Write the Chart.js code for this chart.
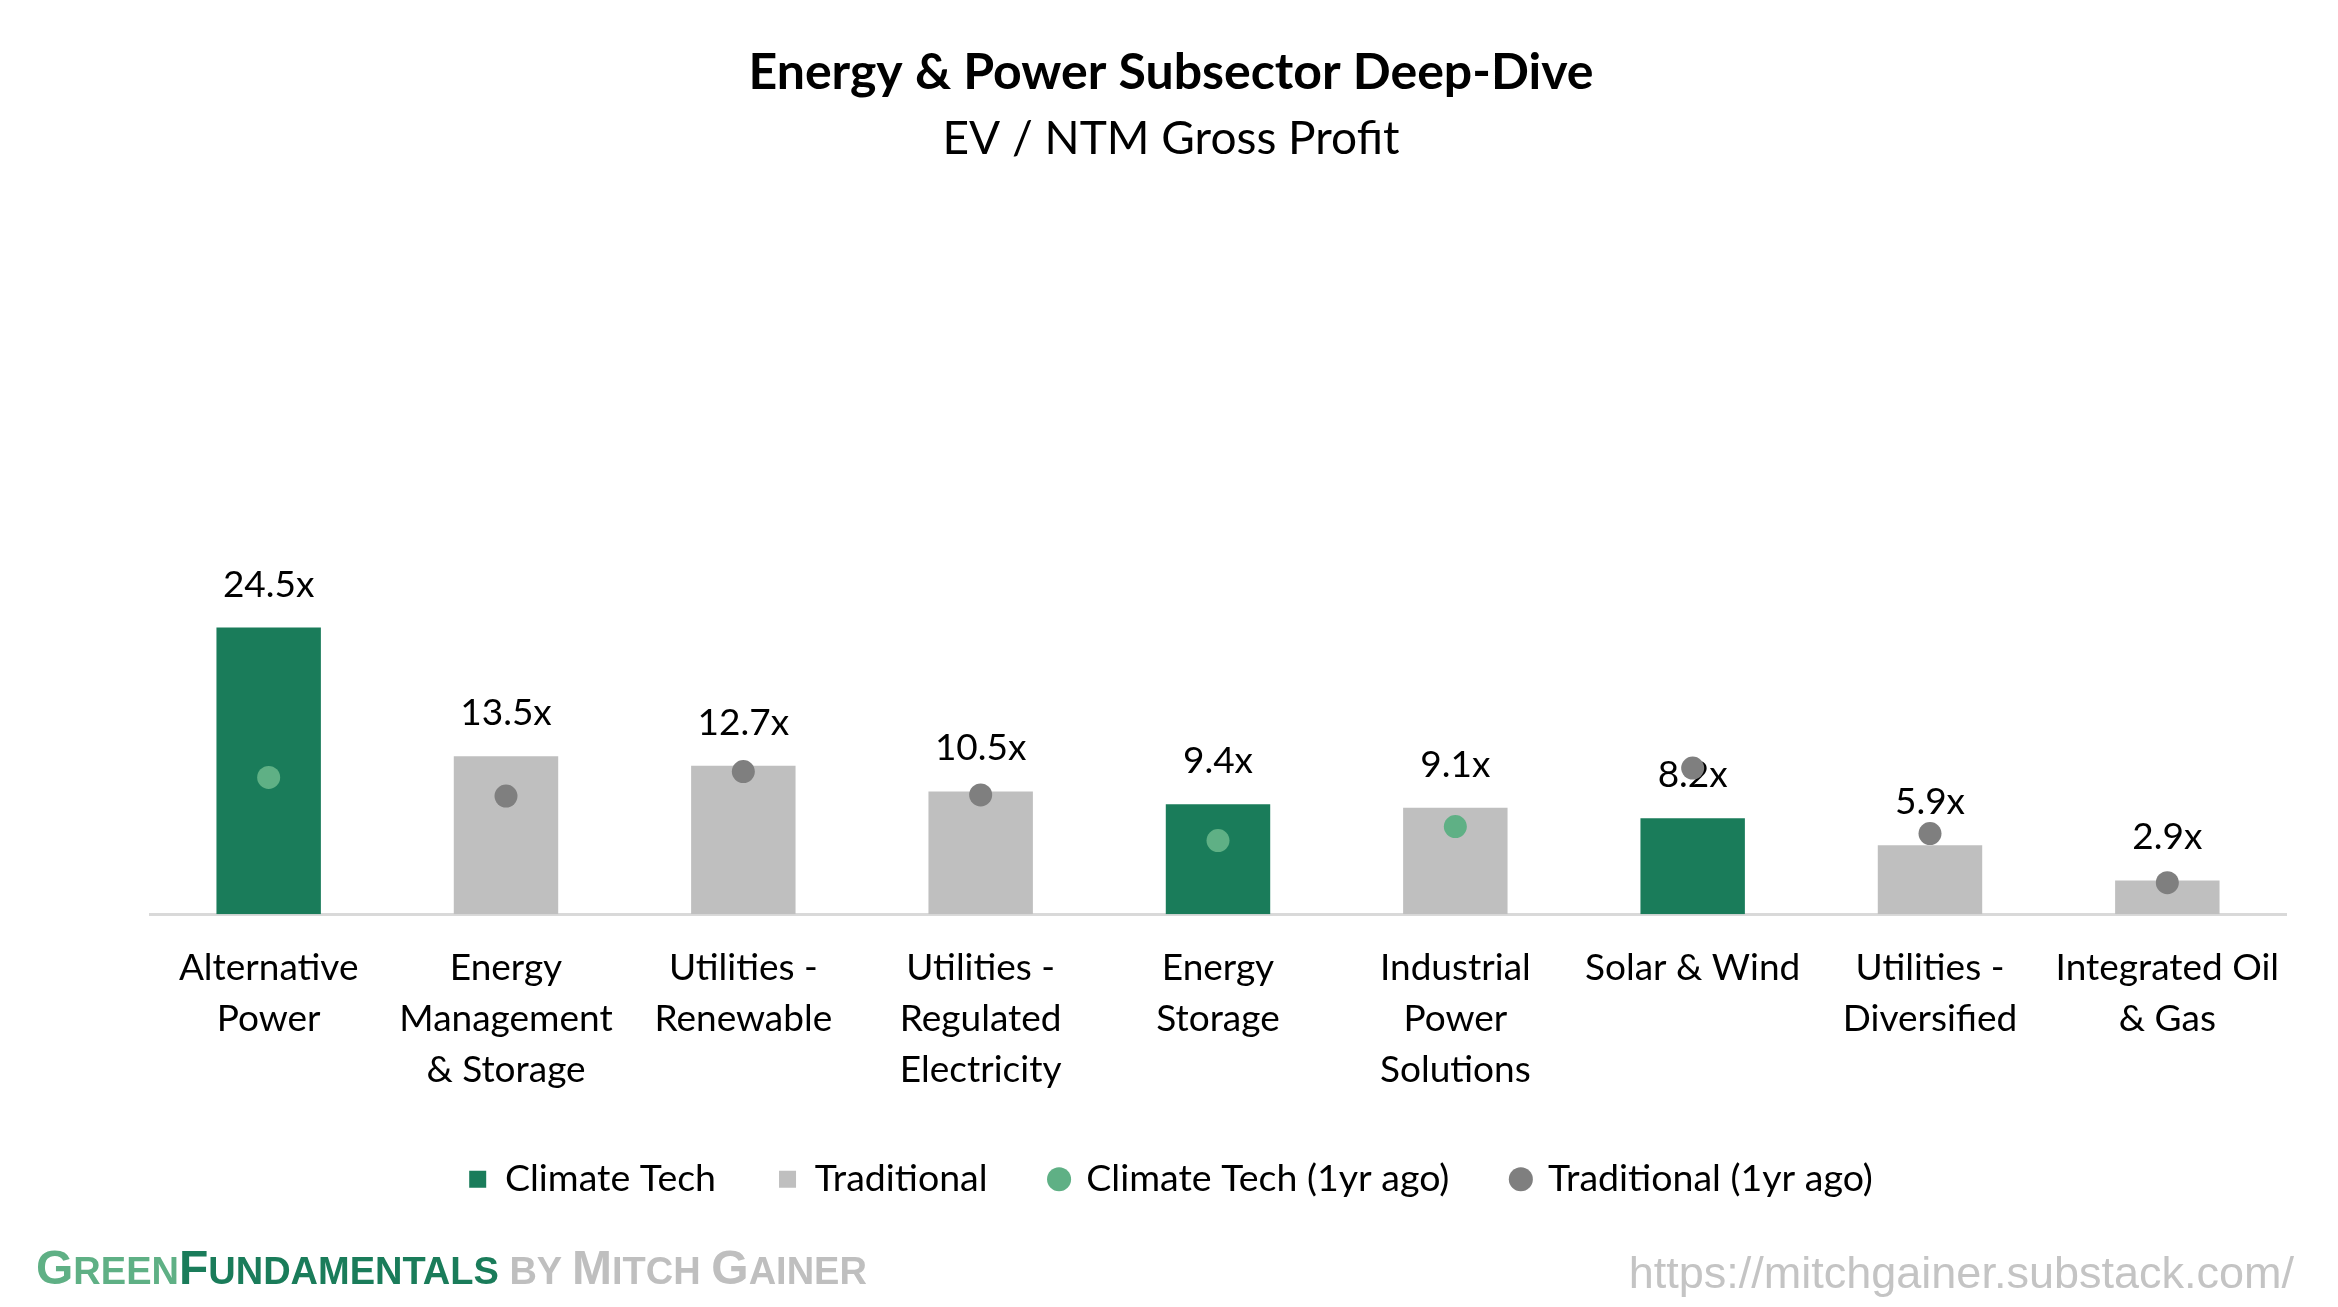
<!DOCTYPE html>
<html>
<head>
<meta charset="utf-8">
<script src="https://cdn.jsdelivr.net/npm/chart.js@4.4.1/dist/chart.umd.min.js"></script>
<style>
  html, body { margin: 0; padding: 0; background: #fff; }
  #wrap { position: relative; width: 2338px; height: 1307px; }
  .brand {
    position: absolute; left: 36px; top: 1243px;
    font-family: "Liberation Sans", Arial, sans-serif; font-weight: 700; font-size: 48px;
    white-space: nowrap; line-height: 50px;
  }
  .brand .sc { font-size: 38px; }
  .brand .g1 { color: #5fb085; }
  .brand .g2 { color: #1a7c5a; }
  .brand .by { color: #bfbfbf; }
  .url {
    position: absolute; right: 44px; top: 1248px;
    font-family: "Liberation Sans", Arial, sans-serif; font-size: 45px;
    color: #c4c4c4; white-space: nowrap; line-height: 50px;
  }
</style>
</head>
<body>
<div id="wrap">
  <canvas id="chart" width="2338" height="1307"></canvas>
  <div class="brand"><span class="g1">G<span class="sc">REEN</span></span><span class="g2">F<span class="sc">UNDAMENTALS</span></span><span class="by"><span class="sc"> BY </span>M<span class="sc">ITCH </span>G<span class="sc">AINER</span></span></div>
  <div class="url">https://mitchgainer.substack.com/</div>
</div>
<script>
// Datos
const categorias = [
  ["Alternative", "Power"],
  ["Energy", "Management", "& Storage"],
  ["Utilities -", "Renewable"],
  ["Utilities -", "Regulated", "Electricity"],
  ["Energy", "Storage"],
  ["Industrial", "Power", "Solutions"],
  ["Solar & Wind"],
  ["Utilities -", "Diversified"],
  ["Integrated Oil", "& Gas"],
];
const valoresActuales = [24.5, 13.5, 12.7, 10.5, 9.4, 9.1, 8.2, 5.9, 2.9];
const tipoBarra = ["climate", "trad", "trad", "trad", "climate", "trad", "climate", "trad", "trad"];
const valoresHaceUnAno = [11.7, 10.1, 12.2, 10.2, 6.3, 7.5, 12.5, 6.9, 2.7];
const tipoPunto = ["climate", "trad", "trad", "trad", "climate", "climate", "trad", "trad", "trad"];

const VERDE = "#1a7c5a";
const GRIS = "#bfbfbf";
const VERDE_CLARO = "#5fb085";
const GRIS_OSCURO = "#7f7f7f";

function filtrar(valores, tipos, tipo) {
  return valores.map((v, i) => (tipos[i] === tipo ? v : null));
}

Chart.defaults.font.family = "Lato, 'Noto Sans', sans-serif";
Chart.defaults.color = "#000";

// Etiquetas de valor encima de las barras (antes de dibujar los puntos)
const etiquetasValor = {
  id: "etiquetasValor",
  afterDatasetDraw(chart, args) {
    if (args.meta.type !== "bar") return;
    const ds = chart.data.datasets[args.index];
    const ctx = chart.ctx;
    ctx.save();
    ctx.font = "37px Lato, 'Noto Sans', sans-serif";
    ctx.fillStyle = "#000";
    ctx.textAlign = "center";
    ctx.textBaseline = "middle";
    args.meta.data.forEach((bar, i) => {
      if (ds.data[i] == null) return;
      ctx.fillText(ds.data[i].toFixed(1) + "x", bar.x, bar.y - 43);
    });
    ctx.restore();
  },
};

const puntoBase = {
  type: "line",
  showLine: false,
  pointRadius: 11.5,
  pointHoverRadius: 11.5,
  pointBorderWidth: 0,
  order: 0,
};

new Chart(document.getElementById("chart"), {
  type: "bar",
  data: {
    labels: categorias,
    datasets: [
      {
        label: "Climate Tech",
        data: filtrar(valoresActuales, tipoBarra, "climate"),
        backgroundColor: VERDE,
        order: 1,
      },
      {
        label: "Traditional",
        data: filtrar(valoresActuales, tipoBarra, "trad"),
        backgroundColor: GRIS,
        order: 1,
      },
      {
        ...puntoBase,
        label: "Climate Tech (1yr ago)",
        data: filtrar(valoresHaceUnAno, tipoPunto, "climate"),
        backgroundColor: VERDE_CLARO,
        borderColor: VERDE_CLARO,
      },
      {
        ...puntoBase,
        label: "Traditional (1yr ago)",
        data: filtrar(valoresHaceUnAno, tipoPunto, "trad"),
        backgroundColor: GRIS_OSCURO,
        borderColor: GRIS_OSCURO,
      },
    ],
  },
  options: {
    responsive: false,
    animation: false,
    devicePixelRatio: 1,
    layout: { padding: { left: 56, right: 52, top: 0, bottom: 99 } },
    datasets: {
      bar: { grouped: false, barPercentage: 0.44, categoryPercentage: 1 },
    },
    scales: {
      x: {
        grid: { display: false, drawTicks: false },
        border: { display: true, color: "#d9d9d9", width: 3 },
        ticks: {
          padding: 28,
          maxRotation: 0,
          autoSkip: false,
          font: { size: 37, lineHeight: 1.38 },
          color: "#000",
        },
        afterFit(scale) { scale.height -= 26; },
      },
      y: {
        min: 0,
        max: 30,
        grid: { display: false, drawTicks: false },
        border: { display: false },
        ticks: { display: false },
        afterFit(scale) { scale.width = 94; },
      },
    },
    plugins: {
      tooltip: { enabled: false },
      title: {
        display: true,
        text: "Energy & Power Subsector Deep-Dive",
        font: { size: 50, weight: "bold", lineHeight: 1.2 },
        color: "#000",
        padding: { top: 43, bottom: 0 },
      },
      subtitle: {
        display: true,
        text: "EV / NTM Gross Profit",
        font: { size: 46, lineHeight: 1.2 },
        color: "#000",
        padding: { top: 9, bottom: 396 },
      },
      legend: {
        position: "bottom",
        labels: {
          usePointStyle: true,
          boxHeight: 17,
          boxWidth: 17,
          padding: 63,
          font: { size: 37.5 },
          color: "#000",
          generateLabels() {
            return [
              { text: "Climate Tech", fillStyle: VERDE, strokeStyle: VERDE, lineWidth: 0, pointStyle: "rect", datasetIndex: 0 },
              { text: "Traditional", fillStyle: GRIS, strokeStyle: GRIS, lineWidth: 0, pointStyle: "rect", datasetIndex: 1 },
              { text: "Climate Tech (1yr ago)", fillStyle: VERDE_CLARO, strokeStyle: VERDE_CLARO, lineWidth: 0, pointStyle: "circle", datasetIndex: 2 },
              { text: "Traditional (1yr ago)", fillStyle: GRIS_OSCURO, strokeStyle: GRIS_OSCURO, lineWidth: 0, pointStyle: "circle", datasetIndex: 3 },
            ];
          },
        },
      },
    },
  },
  plugins: [etiquetasValor],
});
</script>
</body>
</html>
